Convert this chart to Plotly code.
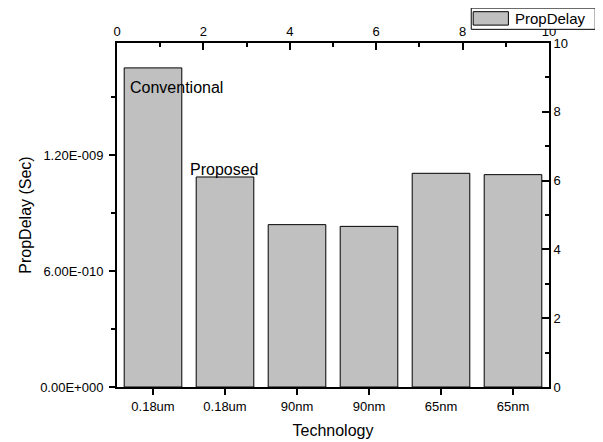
import plotly.graph_objects as go

categories = ["0.18um", "0.18um", "90nm", "90nm", "65nm", "65nm"]
prop_delay = [1.653e-9, 1.088e-9, 8.41e-10, 8.32e-10, 1.107e-9, 1.100e-9]
left_tickvals = [0, 6e-10, 1.2e-9]
left_ticktext = ["0.00E+000", "6.00E-010", "1.20E-009"]
label_texts = ["Conventional", "Proposed"]
label_x = [-0.345, 0.487]
label_y = [1.552e-9, 1.126e-9]

FONT = "Arial, Liberation Sans, Helvetica, sans-serif"
x_idx = list(range(len(categories)))

fig = go.Figure()
fig.add_trace(go.Bar(
    x=x_idx, y=prop_delay, width=0.8, name="PropDelay",
    marker=dict(color="#C0C0C0", line=dict(color="black", width=1)),
    showlegend=False,
))
# invisible trace for the secondary (top/right) axes
fig.add_trace(go.Scatter(x=[0, 10], y=[0, 10], xaxis="x2", yaxis="y2",
                         mode="markers", marker=dict(opacity=0),
                         showlegend=False, hoverinfo="skip"))

for text, xv, yv in zip(label_texts, label_x, label_y):
    fig.add_annotation(x=xv, y=yv, text=text, showarrow=False,
                       xanchor="left", yanchor="middle",
                       font=dict(size=16, color="black", family=FONT))

# custom legend (wide swatch like the reference)
fig.add_shape(type="rect", xref="paper", yref="paper",
              x0=0.820, x1=1.107, y0=1.0397, y1=1.1015,
              line=dict(color="black", width=1), fillcolor="white", layer="above")
fig.add_shape(type="rect", xref="paper", yref="paper",
              x0=0.8245, x1=0.906, y0=1.052, y1=1.091,
              line=dict(color="black", width=1), fillcolor="#C0C0C0", layer="above")
fig.add_annotation(xref="paper", yref="paper", x=0.916, y=1.0716, text="PropDelay",
                   showarrow=False, xanchor="left", yanchor="middle",
                   font=dict(size=15, color="black", family=FONT))

axis_common = dict(showline=True, linecolor="black", linewidth=2, automargin=False,
                   tickcolor="black", tickwidth=1.5, showgrid=False, zeroline=False,
                   tickfont=dict(size=13, color="black", family=FONT))

fig.update_layout(
    width=595, height=434,
    margin=dict(l=108.5, r=53.5, t=35, b=54.7, pad=0, autoexpand=False),
    paper_bgcolor="white", plot_bgcolor="white",
    font=dict(family=FONT, color="black"),
    bargap=0.2,
    xaxis=dict(**axis_common, range=[-0.5, 5.5], tickvals=x_idx, ticktext=categories,
               ticks="outside", ticklen=6,
               title=dict(text="Technology", font=dict(size=16, family=FONT), standoff=12)),
    yaxis=dict(**axis_common, range=[0, 1.782e-9], tickvals=left_tickvals,
               ticktext=left_ticktext, ticks="outside", ticklen=6, ticklabelstandoff=3,
               minor=dict(tickvals=[3e-10, 9e-10, 1.5e-9], ticklen=4, ticks="outside",
                          tickcolor="black", tickwidth=1.5),
               title=dict(text="PropDelay (Sec)", font=dict(size=16, family=FONT), standoff=5)),
    xaxis2=dict(**axis_common, overlaying="x", side="top", range=[0, 10],
                tickvals=[0, 2, 4, 6, 8, 10], ticks="inside", ticklen=7,
                minor=dict(tickvals=[1, 3, 5, 7, 9], ticklen=4, ticks="inside",
                           tickcolor="black", tickwidth=1.5)),
    yaxis2=dict(**axis_common, overlaying="y", side="right", range=[0, 10],
                tickvals=[0, 2, 4, 6, 8, 10], ticks="inside", ticklen=7,
                minor=dict(tickvals=[1, 3, 5, 7, 9], ticklen=4, ticks="inside",
                           tickcolor="black", tickwidth=1.5)),
)

fig.write_html("out.html")
